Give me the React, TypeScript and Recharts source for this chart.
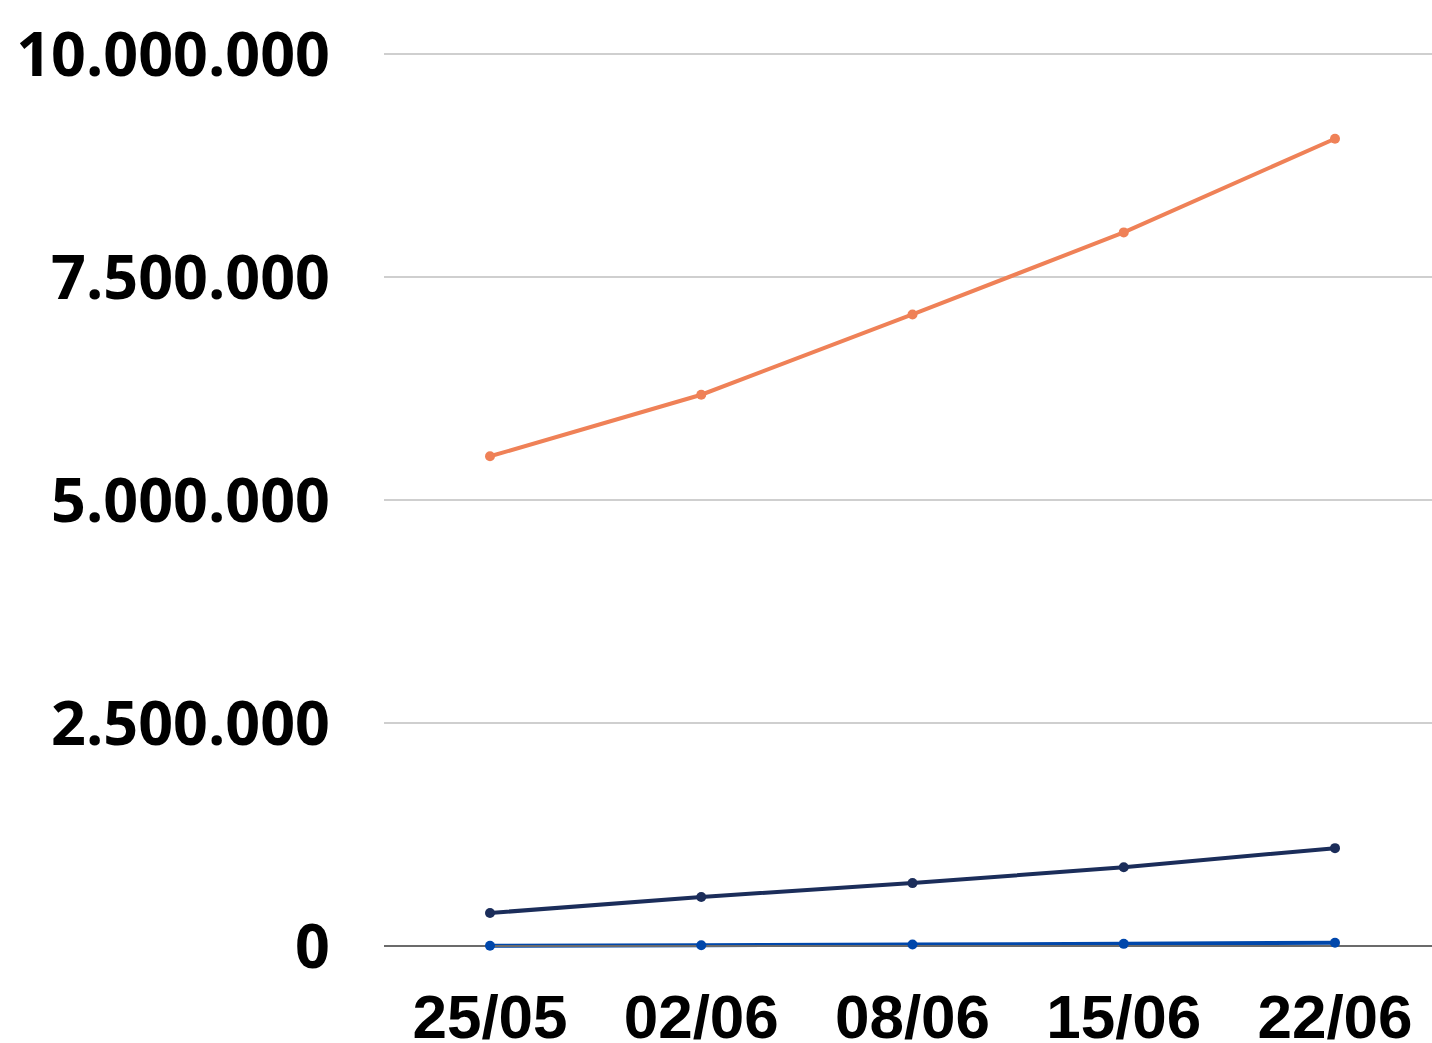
import React from "react";
import { LineChart, Line, XAxis, YAxis, CartesianGrid } from "recharts";

const categories = ["25/05", "02/06", "08/06", "15/06", "22/06"];
const seriesOrange = [5490000, 6180000, 7080000, 8000000, 9050000];
const seriesNavy = [370000, 550000, 705000, 883000, 1097000];
const seriesBlue = [3000, 8000, 16000, 24000, 37000];
const yTicks = [0, 2500000, 5000000, 7500000, 10000000];

const data = categories.map((c, i) => ({
  date: c,
  orange: seriesOrange[i],
  navy: seriesNavy[i],
  blue: seriesBlue[i],
}));

const fmt = (v: number) => String(v).replace(/\B(?=(\d{3})+(?!\d))/g, ".");

export default function App() {
  return (
    <div style={{ position: "fixed", left: 0, top: 0, width: 1432, height: 1043, overflow: "hidden", background: "#fff" }}>
      <LineChart width={1441} height={1043} data={data} margin={{ top: 54, right: 0, left: 0, bottom: 0 }}>
        <CartesianGrid vertical={false} stroke="#BFBFBF" strokeWidth={1.3} />
        <XAxis
          dataKey="date"
          height={97}
          padding={{ left: 106, right: 106 }}
          tickLine={false}
          tickSize={0}
          tickMargin={48}
          axisLine={{ stroke: "#6b6b6b", strokeWidth: 2 }}
          tick={{ fill: "#000", fontSize: 62, fontWeight: 700, fontFamily: "Liberation Sans, Arial, sans-serif" }}
          interval={0}
        />
        <YAxis
          width={384}
          domain={[0, 10000000]}
          ticks={yTicks}
          tickFormatter={fmt}
          axisLine={false}
          tickLine={false}
          tickSize={0}
          tickMargin={54}
          tick={{ fill: "#000", fontSize: 61, fontWeight: 700, fontFamily: "Open Sans, sans-serif" }}
        />
        <Line type="linear" dataKey="orange" stroke="#EF8157" strokeWidth={4} dot={{ r: 5, fill: "#EF8157", stroke: "#EF8157", strokeWidth: 0 }} isAnimationActive={false} />
        <Line type="linear" dataKey="navy" stroke="#1B2D5A" strokeWidth={4} dot={{ r: 5, fill: "#1B2D5A", stroke: "#1B2D5A", strokeWidth: 0 }} isAnimationActive={false} />
        <Line type="linear" dataKey="blue" stroke="#0047AB" strokeWidth={4} dot={{ r: 5, fill: "#0047AB", stroke: "#0047AB", strokeWidth: 0 }} isAnimationActive={false} />
      </LineChart>
    </div>
  );
}
